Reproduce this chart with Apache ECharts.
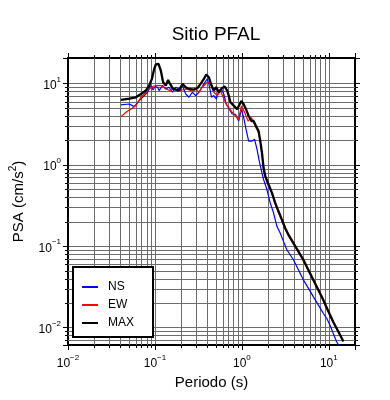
<!DOCTYPE html>
<html><head><meta charset="utf-8">
<script src="https://cdn.jsdelivr.net/npm/echarts@6/dist/echarts.min.js"></script>
<style>html,body{margin:0;padding:0;background:#fff}#c{width:390px;height:400px}</style>
</head><body><div id="c"></div>
<script>
// ---- data (period in s, PSA in cm/s^2) ----
const nsPeriod=[0.0407,0.0507,0.0578,0.0659,0.0752,0.0822,0.0897,0.0953,0.1005,0.1071,0.1117,0.1222,0.1334,0.1452,0.1589,0.1734,0.1892,0.2070,0.2261,0.2460,0.2692,0.2938,0.3206,0.3656,0.4000,0.4169,0.4477,0.4753,0.5070,0.5433,0.5821,0.6194,0.6590,0.7063,0.7727,0.8425,0.9183,0.986,1.049,1.117,1.196,1.309,1.400,1.493,1.585,1.702,1.775,1.941,2.118,2.312,2.528,2.757,3.008,3.289,3.589,3.915,4.467,5.093,5.808,6.627,7.565,8.630,9.44,10.29,11.22,12.28,14.00,14.89];
const nsPSA=[5.45,5.60,5.20,6.17,7.11,7.81,9.45,8.34,9.18,9.00,8.20,9.45,8.58,9.00,7.81,9.00,8.58,9.45,7.44,6.78,7.81,7.11,7.81,9.89,11.39,9.89,6.78,7.11,6.46,8.20,8.58,7.44,5.60,4.96,4.24,4.18,3.46,4.82,3.81,2.73,1.96,1.96,2.06,1.549,1.111,0.799,0.661,0.497,0.341,0.2567,0.1754,0.1455,0.1146,0.0905,0.0786,0.0682,0.0513,0.0386,0.0305,0.0240,0.0190,0.0150,0.0130,0.01077,0.0085,0.0067,0.0053,0.0049];
const ewPeriod=[0.0407,0.0465,0.0530,0.0604,0.0690,0.0787,0.0859,0.0939,0.1024,0.1168,0.1334,0.1481,0.1614,0.1766,0.1977,0.2261,0.2576,0.2938,0.3206,0.3508,0.4000,0.4365,0.4753,0.5200,0.5675,0.6194,0.6776,0.7063,0.7586,0.8425,0.9183,0.986,1.076,1.178,1.285,1.365,1.452,1.556,1.629,1.702,1.775,1.858,2.027,2.218,2.417,2.636,2.884,3.146,3.430,3.915,4.467,5.093,5.808,6.627,7.565,8.630,9.84,11.22,12.81,14.69];
const ewPSA=[3.92,4.43,4.86,5.36,6.78,7.81,8.58,9.18,9.45,9.45,8.58,8.20,8.75,8.34,8.20,8.58,8.20,8.58,7.81,9.00,10.38,9.89,7.81,7.11,8.20,6.46,5.36,5.56,4.55,3.99,3.63,5.30,4.39,3.46,3.81,3.33,2.89,2.50,1.89,1.34,0.90,0.70,0.555,0.44,0.33,0.26,0.206,0.163,0.135,0.106,0.084,0.066,0.050,0.0375,0.0283,0.0213,0.0156,0.0115,0.0088,0.0067];
const maxPeriod=[0.0407,0.0507,0.0604,0.0690,0.0787,0.0859,0.0923,0.0980,0.1024,0.1099,0.1168,0.1242,0.1334,0.1416,0.1493,0.1614,0.1734,0.1892,0.2070,0.2261,0.2460,0.2809,0.3069,0.3350,0.3656,0.3890,0.4169,0.4477,0.4753,0.5070,0.5433,0.5929,0.6353,0.6776,0.7063,0.7379,0.8054,0.8810,0.986,1.049,1.117,1.196,1.285,1.365,1.452,1.556,1.629,1.702,1.775,1.858,2.027,2.218,2.417,2.636,2.884,3.146,3.430,3.915,4.467,5.093,5.808,6.627,7.565,8.630,9.84,11.22,12.81,14.69];
const maxPSA=[6.28,6.53,6.78,7.44,8.20,9.45,11.39,15.14,17.15,17.45,14.46,10.38,9.45,11.08,9.89,8.58,8.40,8.20,9.89,9.00,8.58,8.43,8.75,9.89,11.39,12.91,11.96,9.45,8.20,9.00,7.81,8.83,9.18,8.20,7.11,5.88,5.36,4.82,6.10,5.56,4.82,3.99,3.46,3.46,3.00,2.60,1.96,1.41,0.92,0.726,0.573,0.453,0.341,0.2686,0.2122,0.1676,0.1386,0.1095,0.0863,0.0682,0.0513,0.0386,0.0291,0.0219,0.0160,0.0118,0.0090,0.0068];
const seriesNames=['NS','EW','MAX'];
const xMinorTicks=[0.02,0.03,0.04,0.05,0.06,0.07,0.08,0.09,0.2,0.3,0.4,0.5,0.6,0.7,0.8,0.9,2,3,4,5,6,7,8,9];
const yMinorTicks=[0.007,0.008,0.009,0.02,0.03,0.04,0.05,0.06,0.07,0.08,0.09,0.2,0.3,0.4,0.5,0.6,0.7,0.8,0.9,2,3,4,5,6,7,8,9];

const FONT='"Liberation Sans", Arial, Helvetica, sans-serif';
const GRID='#6c6c6c';
function zip(a,b){return a.map((v,i)=>[v,b[i]]);}
function pow10Label(v){
  const e=Math.round(Math.log10(v));
  if(Math.abs(v/Math.pow(10,e)-1)>1e-6) return '';
  return '{b|10}{s|'+(e<0?'\u2212'+(-e):String(e))+'}';
}
const tickRich={
  b:{fontSize:12,fontFamily:FONT,color:'#000',lineHeight:16,verticalAlign:'bottom'},
  s:{fontSize:8,fontFamily:FONT,color:'#000',lineHeight:9,verticalAlign:'top'}
};
const axisBase={type:'log',logBase:10,
  axisLine:{show:true,onZero:false,lineStyle:{color:'#000',width:2}},
  axisTick:{show:true,inside:false,length:5,lineStyle:{color:'#000',width:1}},
  minorTick:{show:false},splitLine:{show:false}};

function minorRender(dir){
  return function(params,api){
    const cs=params.coordSys;
    const v=api.value(dir==='x'?0:1);
    const p=api.coord(dir==='x'?[v,1]:[1,v]);
    const ch=[];
    if(dir==='x'){
      const x=Math.round(p[0])+0.5;
      ch.push({type:'line',shape:{x1:x,y1:cs.y,x2:x,y2:cs.y+cs.height},style:{stroke:GRID,lineWidth:1}});
      ch.push({type:'line',shape:{x1:x,y1:cs.y+cs.height,x2:x,y2:cs.y+cs.height+3},style:{stroke:'#000',lineWidth:1}});
      ch.push({type:'line',shape:{x1:x,y1:cs.y,x2:x,y2:cs.y-3},style:{stroke:'#000',lineWidth:1}});
    }else{
      const y=Math.round(p[1])+0.5;
      ch.push({type:'line',shape:{x1:cs.x,y1:y,x2:cs.x+cs.width,y2:y},style:{stroke:GRID,lineWidth:1}});
      ch.push({type:'line',shape:{x1:cs.x,y1:y,x2:cs.x-3,y2:y},style:{stroke:'#000',lineWidth:1}});
      ch.push({type:'line',shape:{x1:cs.x+cs.width,y1:y,x2:cs.x+cs.width+3,y2:y},style:{stroke:'#000',lineWidth:1}});
    }
    return {type:'group',children:ch};
  };
}

const chart=echarts.init(document.getElementById('c'),null,{renderer:'canvas'});
chart.setOption({
  animation:false,
  backgroundColor:'#fff',
  title:{text:'Sitio PFAL',left:211,top:20,textAlign:'center',
    textStyle:{fontSize:19,fontWeight:'normal',fontFamily:FONT,color:'#000'}},
  grid:{left:66,right:35,top:58,bottom:55,containLabel:false},
  legend:{data:seriesNames,orient:'vertical',left:73,top:267,backgroundColor:'#fff',
    borderColor:'#000',borderWidth:2,borderRadius:0,padding:[13,19,7,9],itemGap:4,
    itemWidth:16,itemHeight:2,icon:'rect',selectedMode:false,
    textStyle:{fontSize:12,fontFamily:FONT,color:'#000',lineHeight:14,padding:[0,0,0,5]}},
  xAxis:[
    Object.assign({},axisBase,{min:0.01,max:20,position:'bottom',
      axisLabel:{formatter:pow10Label,rich:tickRich,margin:9},
      splitLine:{show:true,lineStyle:{color:GRID,width:1}},
      name:'Periodo (s)',nameLocation:'middle',nameGap:29,
      nameTextStyle:{fontSize:15,fontFamily:FONT,color:'#000'}}),
    Object.assign({},axisBase,{min:0.01,max:20,position:'top',axisLabel:{show:false}})
  ],
  yAxis:[
    Object.assign({},axisBase,{min:0.0061,max:20.6,position:'left',
      axisLabel:{formatter:pow10Label,rich:tickRich,margin:7},
      splitLine:{show:true,lineStyle:{color:GRID,width:1}},
      name:'{a|PSA (cm/s}{s|2}{a|)}',nameLocation:'middle',nameGap:42,nameRotate:90,
      nameTextStyle:{rich:{
        a:{fontSize:15,fontFamily:FONT,color:'#000',lineHeight:18,verticalAlign:'bottom'},
        s:{fontSize:10,fontFamily:FONT,color:'#000',lineHeight:11,verticalAlign:'top'}}}}),
    Object.assign({},axisBase,{min:0.0061,max:20.6,position:'right',axisLabel:{show:false}})
  ],
  series:[
    {type:'custom',name:'xminor',silent:true,z:1,xAxisIndex:0,yAxisIndex:0,clip:false,
      renderItem:minorRender('x'),data:xMinorTicks.map(v=>[v,1])},
    {type:'custom',name:'yminor',silent:true,z:1,xAxisIndex:0,yAxisIndex:0,clip:false,
      renderItem:minorRender('y'),data:yMinorTicks.map(v=>[1,v])},
    {type:'line',name:'NS',data:zip(nsPeriod,nsPSA),showSymbol:false,symbol:'none',clip:true,z:3,
      color:'#0000ff',lineStyle:{color:'#0000ff',width:1.2}},
    {type:'line',name:'EW',data:zip(ewPeriod,ewPSA),showSymbol:false,symbol:'none',clip:true,z:4,
      color:'#ff0000',lineStyle:{color:'#ff0000',width:1.2}},
    {type:'line',name:'MAX',data:zip(maxPeriod,maxPSA),showSymbol:false,symbol:'none',clip:true,z:5,
      color:'#000000',lineStyle:{color:'#000000',width:2.3}}
  ]
});
</script></body></html>
